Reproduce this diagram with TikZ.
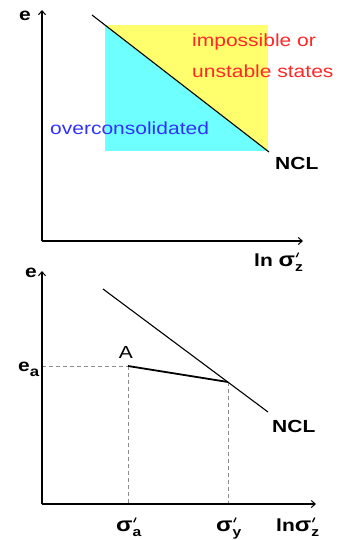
\documentclass[tikz,border=0pt]{standalone}
\usepackage{fontspec}
\setmainfont{Liberation Sans}
\usetikzlibrary{arrows.meta}
\definecolor{ylw}{RGB}{255,255,110}
\definecolor{cyn}{RGB}{110,255,255}
\definecolor{redtxt}{RGB}{255,40,40}
\definecolor{bluetxt}{RGB}{50,50,255}
\newcommand\hs[1]{\scalebox{1.2}[1]{#1}}
\newcommand\prm{\rotatebox{-22}{\rule{1.1pt}{5pt}}}
\newcommand\sgm[1]{{\fontsize{20}{20}\selectfont σ}\rlap{\raisebox{9pt}{\kern0.5pt\prm}}\raisebox{-0.3em}{\fontsize{13}{13}\selectfont #1}}
\begin{document}
\begin{tikzpicture}[x=1pt,y=-1pt,
  lbl/.style={inner sep=0pt,font=\fontsize{17.5}{20}\selectfont},
  blbl/.style={lbl,font=\fontsize{17.5}{20}\selectfont\bfseries},
  axis/.style={line width=1.4pt,-{Straight Barb[length=4pt,width=7pt,line width=1pt]}},
  ncl/.style={line width=1.1pt},
  guide/.style={gray!90,line width=0.9pt,dash pattern=on 4pt off 3pt}]
\path[use as bounding box] (0,0) rectangle (347,540);
% ---------- top panel ----------
\coordinate (o1) at (42,241);
\coordinate (y1) at (42,10);
\coordinate (x1) at (303,241);
\fill[ylw] (105,25) rectangle (268,151);
\fill[cyn] (105,25) -- (268,151) -- (105,151) -- cycle;
\coordinate (n1a) at (92,15);
\coordinate (n1b) at (269,152);
\draw[ncl] (n1a) -- (n1b);
\draw[axis] (o1) -- (y1);
\draw[axis] (o1) -- (x1);
\node[blbl] (e1) at (25,16) {\hs{e}};
\node[lbl,anchor=west,text=redtxt] (imp) at (192,42) {\hs{impossible or}};
\node[lbl,anchor=west,text=redtxt] (uns) at (192,71) {\hs{unstable states}};
\node[lbl,anchor=west,text=bluetxt] (oc) at (50,128) {\hs{overconsolidated}};
\node[blbl,anchor=west] (ncl1) at (275,163) {\hs{NCL}};
\node[blbl,anchor=base west] (lx1) at (254,266) {\hs{ln \sgm{z}}};
% ---------- bottom panel ----------
\coordinate (o2) at (42,504);
\coordinate (y2) at (42,271);
\coordinate (x2) at (316,504);
\coordinate (A) at (128,366);
\coordinate (Y) at (228,382);
\coordinate (ea) at (42,366);
\coordinate (sa) at (128,504);
\coordinate (sy) at (228,504);
\draw[guide] (ea) -- (A);
\draw[guide] (A) -- (sa);
\draw[guide] (Y) -- (sy);
\coordinate (n2a) at (103,289);
\coordinate (n2b) at (268,412);
\draw[ncl] (n2a) -- (n2b);
\draw[line width=1.8pt] (A) -- (Y);
\draw[axis] (o2) -- (y2);
\draw[axis] (o2) -- (x2);
\node[blbl] (e2) at (31,273) {\hs{e}};
\node[blbl,anchor=base west] (ealbl) at (18,371) {\hs{e\raisebox{-0.3em}{\fontsize{14}{14}\selectfont a}}};
\node[lbl] (Albl) at (126,352) {\hs{A}};
\node[blbl,anchor=west] (ncl2) at (272,426) {\hs{NCL}};
\node[blbl,anchor=base west] (salbl) at (116,531) {\hs{\sgm{a}}};
\node[blbl,anchor=base west] (sylbl) at (216,531) {\hs{\sgm{y}}};
\node[blbl,anchor=base west] (lx2) at (276,531) {\hs{ln\sgm{z}}};
\end{tikzpicture}
\end{document}
